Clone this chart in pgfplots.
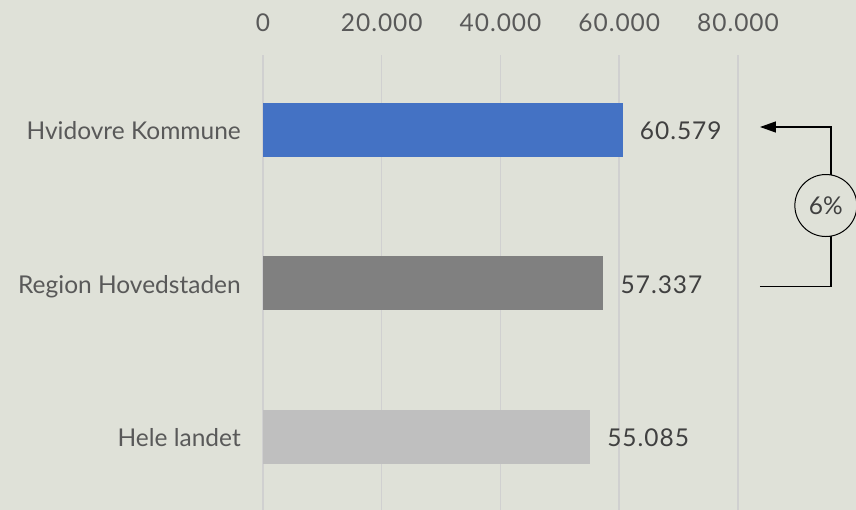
\documentclass[border=0pt]{standalone}
\usepackage{pgfplots}
\pgfplotsset{compat=1.18}
\usepackage{fontspec}
\setmainfont{Lato}
\usetikzlibrary{arrows.meta,backgrounds}

\definecolor{bg}{HTML}{DFE1D8}
\definecolor{gridgray}{HTML}{D0D0D0}
\definecolor{txtgray}{HTML}{595959}
\definecolor{valgray}{HTML}{404040}
\definecolor{barblue}{HTML}{4472C4}
\definecolor{bargray}{HTML}{808080}
\definecolor{barlight}{HTML}{BFBFBF}

\begin{document}
\begin{tikzpicture}[font=\fontsize{24.5bp}{29bp}\selectfont]
\begin{axis}[
    scale only axis,
    width=475bp, height=455bp,
    xbar, bar width=54bp,
    xmin=0, xmax=80000,
    ymin=-0.4756, ymax=2.4886,
    enlargelimits=false,
    clip=false,
    axis line style={draw=none},
    major tick length=0pt,
    xmajorgrids,
    major grid style={draw=gridgray, line width=1.5bp},
    xtick={0,20000,40000,60000,80000},
    xticklabel pos=upper,
    scaled x ticks=false,
    xticklabel style={anchor=base, yshift=23bp, text=txtgray,
        font=\fontsize{24.5bp}{29bp}\selectfont\addfontfeatures{LetterSpace=4}},
    ytick={0,1,2},
    yticklabels={Hele landet, Region Hovedstaden, Hvidovre Kommune},
    yticklabel style={anchor=base east, inner sep=0pt, xshift=-22bp, yshift=-9.8bp, text=txtgray},
    /pgf/number format/.cd, 1000 sep={.}, fixed, precision=0, assume math mode=true,
    /pgfplots/.cd,
    point meta=x,
    nodes near coords,
    nodes near coords style={anchor=base west, inner sep=0pt, xshift=17bp, yshift=-9.8bp, text=valgray,
        font=\fontsize{24.5bp}{29bp}\selectfont\addfontfeatures{LetterSpace=4}},
]
\addplot[draw=none, fill=barblue, bar shift=0pt] coordinates {(60579,2)};
\addplot[draw=none, fill=bargray, bar shift=0pt] coordinates {(57337,1)};
\addplot[draw=none, fill=barlight, bar shift=0pt] coordinates {(55085,0)};

\coordinate (O) at (rel axis cs:0,0);
\draw[line width=1.3bp, -{Triangle[length=16bp,width=11bp]}]
    (axis cs:83705,0.980) -- (axis cs:95663,0.980) -- (axis cs:95663,2.0195) -- (axis cs:83705,2.0195);
\node[circle, draw=black, line width=1bp, fill=bg, minimum size=62bp, inner sep=0pt, text=valgray]
    at (axis cs:94800,1.508) {6\%};
\end{axis}
\begin{scope}[on background layer]
\fill[bg] ([xshift=-263bp]O) rectangle ++(856bp,510bp);
\end{scope}
\pgfresetboundingbox
\useasboundingbox ([xshift=-263bp]O) rectangle ++(856bp,510bp);
\end{tikzpicture}
\end{document}
